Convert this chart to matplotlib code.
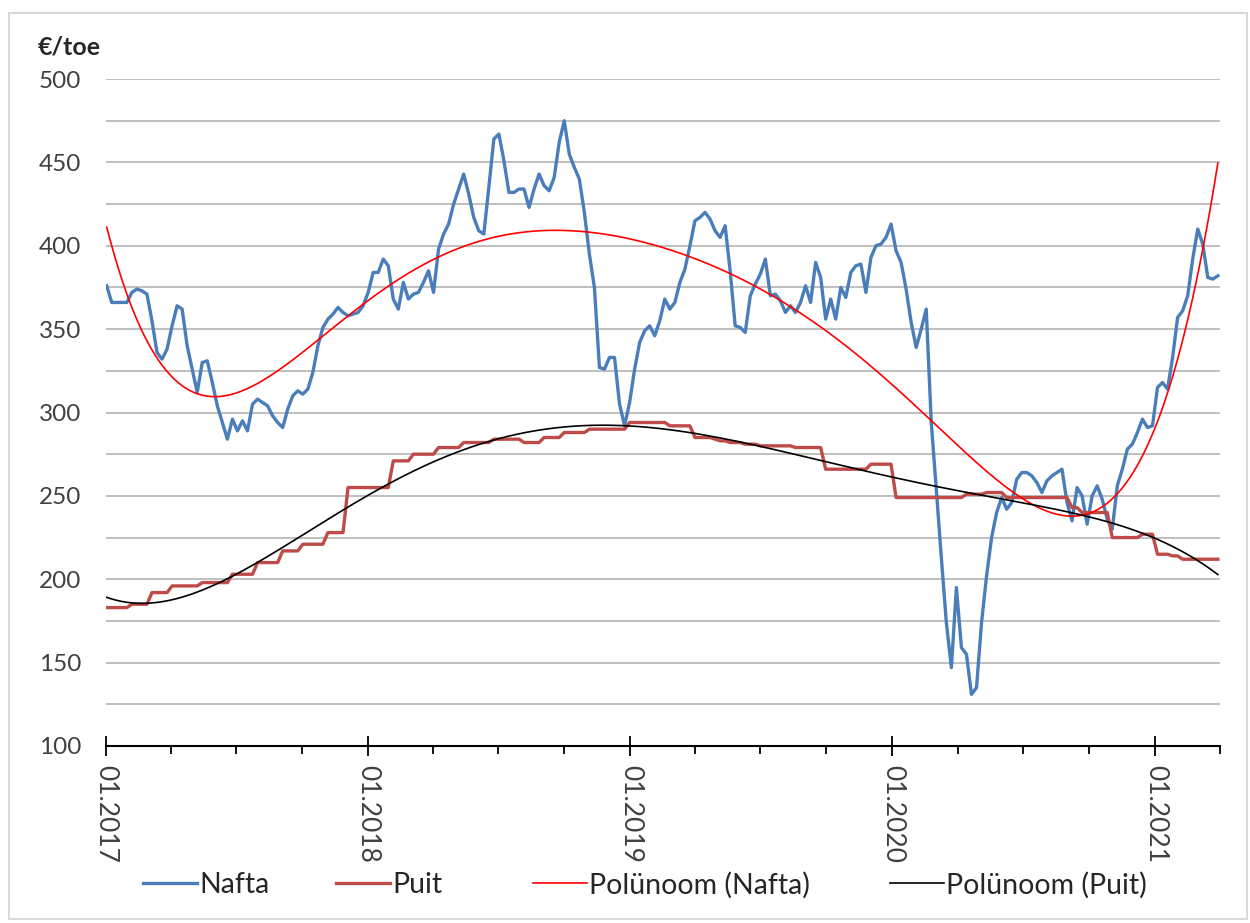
import numpy as np
import pandas as pd
import matplotlib
matplotlib.use("Agg")
import matplotlib.pyplot as plt
import matplotlib.dates as mdates
from matplotlib.lines import Line2D
from matplotlib.patches import Rectangle

plt.rcParams['font.family'] = ['Lato', 'DejaVu Sans']

# ---------------- data (weekly, from 2017-01-02) ----------------
start_date = '2017-01-02'
nafta = [376, 366, 366, 366, 366, 372, 374, 373, 371, 355,
         336, 332, 338, 352, 364, 362, 340, 326, 312, 330,
         331, 318, 304, 294, 284, 296, 289, 295, 289, 305,
         308, 306, 304, 298, 294, 291, 302, 310, 313, 311,
         314, 324, 340, 351, 356, 359, 363, 360, 358, 359,
         360, 364, 372, 384, 384, 392, 388, 368, 362, 378,
         368, 371, 372, 378, 385, 372, 398, 407, 413, 425,
         434, 443, 431, 417, 409, 407, 435, 464, 467, 451,
         432, 432, 434, 434, 423, 434, 443, 436, 433, 441,
         462, 475, 455, 447, 440, 420, 395, 375, 327, 326,
         333, 333, 305, 292, 306, 326, 342, 349, 352, 346,
         355, 368, 362, 366, 378, 386, 400, 415, 417, 420,
         416, 409, 405, 412, 385, 352, 351, 348, 370, 377,
         383, 392, 370, 371, 367, 360, 364, 360, 366, 376,
         366, 390, 381, 356, 368, 356, 375, 369, 384, 388,
         389, 372, 393, 400, 401, 405, 413, 397, 390, 374,
         354, 339, 350, 362, 294, 254, 213, 174, 147, 195,
         159, 155, 131, 135, 174, 202, 225, 240, 249, 242,
         246, 260, 264, 264, 262, 258, 252, 259, 262, 264,
         266, 246, 235, 255, 250, 233, 250, 256, 248, 236,
         230, 256, 266, 278, 281, 288, 296, 291, 292, 315,
         318, 314, 333, 357, 361, 370, 392, 410, 401, 381,
         380, 382]

puit = [183, 183, 183, 183, 183, 185, 185, 185, 185, 192,
        192, 192, 192, 196, 196, 196, 196, 196, 196, 198,
        198, 198, 198, 198, 198, 203, 203, 203, 203, 203,
        210, 210, 210, 210, 210, 217, 217, 217, 217, 221,
        221, 221, 221, 221, 228, 228, 228, 228, 255, 255,
        255, 255, 255, 255, 255, 255, 255, 271, 271, 271,
        271, 275, 275, 275, 275, 275, 279, 279, 279, 279,
        279, 282, 282, 282, 282, 282, 282, 284, 284, 284,
        284, 284, 284, 282, 282, 282, 282, 285, 285, 285,
        285, 288, 288, 288, 288, 288, 290, 290, 290, 290,
        290, 290, 290, 290, 294, 294, 294, 294, 294, 294,
        294, 294, 292, 292, 292, 292, 292, 285, 285, 285,
        285, 284, 283, 283, 282, 282, 282, 281, 281, 281,
        280, 280, 280, 280, 280, 280, 280, 279, 279, 279,
        279, 279, 279, 266, 266, 266, 266, 266, 266, 266,
        266, 266, 269, 269, 269, 269, 269, 249, 249, 249,
        249, 249, 249, 249, 249, 249, 249, 249, 249, 249,
        249, 251, 251, 251, 251, 252, 252, 252, 252, 249,
        249, 249, 249, 249, 249, 249, 249, 249, 249, 249,
        249, 249, 243, 243, 240, 240, 240, 240, 240, 240,
        225, 225, 225, 225, 225, 225, 227, 227, 227, 215,
        215, 215, 214, 214, 212, 212, 212, 212, 212, 212,
        212, 212]

series_names = ['Nafta', 'Puit', 'Polünoom (Nafta)', 'Polünoom (Puit)']
y_label = '€/toe'
nafta_degree = 6
puit_degree = 6

dates = pd.date_range(start_date, periods=len(nafta), freq='7D')
xnum = mdates.date2num(dates)

# polynomial trendlines (least squares fit, as Excel does)
t = (xnum - xnum[0]) / (xnum[-1] - xnum[0])
cn = np.polyfit(t, nafta, nafta_degree)
cp = np.polyfit(t, puit, puit_degree)
tf = np.linspace(0, 1, 600)
xf = xnum[0] + tf * (xnum[-1] - xnum[0])
trend_n = np.polyval(cn, tf)
trend_p = np.polyval(cp, tf)

# ---------------- figure ----------------
W, H = 1250, 923
fig = plt.figure(figsize=(W / 100, H / 100), dpi=100)
fig.patches.append(Rectangle((9 / W, 4 / H), 1238 / W, 906 / H,
                             transform=fig.transFigure, fill=False,
                             edgecolor='#d9d9d9', linewidth=1.5))

L, R, T, B = 106, 1220, 79, 746
ax = fig.add_axes([L / W, 1 - B / H, (R - L) / W, (B - T) / H])

c_nafta = '#4a7ebb'
c_puit = '#be4b48'
ax.plot(dates, nafta, color=c_nafta, lw=2.4, zorder=3, solid_joinstyle='round')
ax.plot(dates, puit, color=c_puit, lw=2.4, zorder=3)
ax.plot(mdates.num2date(xf), trend_n, color='#ff0000', lw=1.2, zorder=4)
ax.plot(mdates.num2date(xf), trend_p, color='#000000', lw=1.2, zorder=4)

ax.set_ylim(100, 500)
ax.set_xlim(pd.Timestamp('2017-01-01'), pd.Timestamp('2021-04-01'))

ax.set_yticks(np.arange(100, 501, 50))
ax.set_yticks(np.arange(125, 500, 50), minor=True)
ax.yaxis.grid(True, which='both', color='#b4b4b4', lw=1.2)
ax.set_axisbelow(True)
ax.tick_params(axis='y', which='both', length=0, pad=18,
               labelsize=17.5, labelcolor='#404040')

ax.xaxis.set_major_locator(mdates.YearLocator())
ax.xaxis.set_major_formatter(mdates.DateFormatter('%m.%Y'))
ax.xaxis.set_minor_locator(mdates.MonthLocator(bymonth=[4, 7, 10]))
ax.tick_params(axis='x', which='major', direction='inout', length=14,
               width=1.3, color='black', pad=7, labelsize=19,
               labelcolor='#404040', labelrotation=-90)
ax.tick_params(axis='x', which='minor', direction='out', length=6,
               width=1.3, color='black')
for lab in ax.get_xticklabels():
    lab.set_va('top')
    lab.set_ha('center')

for s in ['left', 'right', 'top']:
    ax.spines[s].set_visible(False)
ax.spines['bottom'].set_color('black')
ax.spines['bottom'].set_linewidth(1.5)

fig.text(38 / W, 1 - 47 / H, y_label, fontsize=18, fontweight='bold',
         color='#262626', ha='left', va='center')

# legend entries
handles = [Line2D([], [], color=c_nafta, lw=2.4),
           Line2D([], [], color=c_puit, lw=2.4),
           Line2D([], [], color='#ff0000', lw=1.2),
           Line2D([], [], color='#000000', lw=1.2)]
leg_x = [143, 336, 533, 890]
for h, name, x0 in zip(handles, series_names, leg_x):
    lg = fig.legend(handles=[h], labels=[name], loc='center left',
                    bbox_to_anchor=(x0 / W, 1 - 885 / H), frameon=False,
                    borderpad=0, borderaxespad=0, handlelength=1.9,
                    handletextpad=0.08, fontsize=20.5)
    for tx in lg.get_texts():
        tx.set_color('#262626')

fig.savefig('out.png', dpi=100)
